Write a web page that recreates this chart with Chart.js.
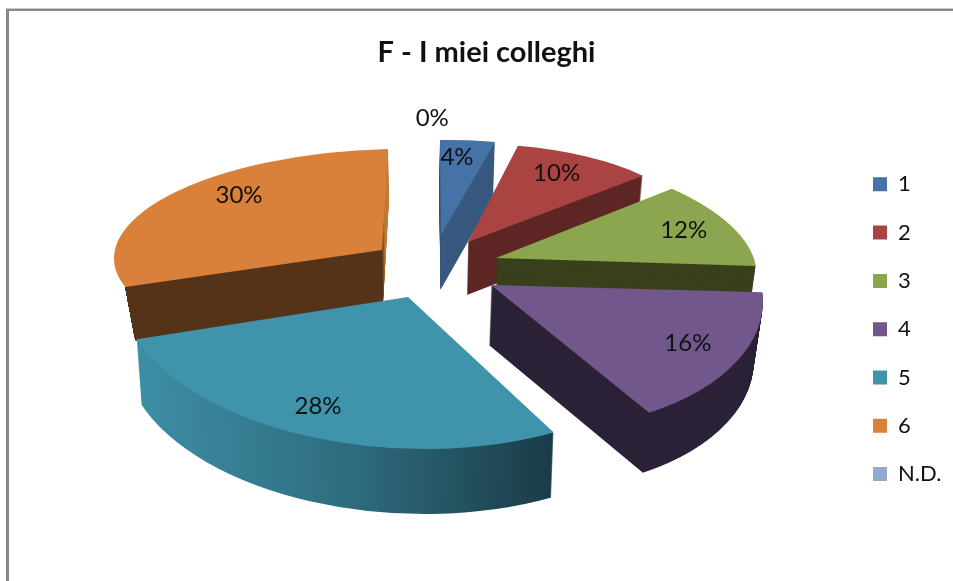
<!DOCTYPE html>
<html>
<head>
<meta charset="utf-8">
<style>html,body{margin:0;padding:0;background:#fff;overflow:hidden}canvas{display:block}</style>
<script src="https://cdn.jsdelivr.net/npm/chart.js@4"></script>
</head>
<body>
<canvas id="c" width="953" height="581"></canvas>
<script>
const categories = ['1','2','3','4','5','6','N.D.'];
const shares = [4,10,12,16,28,30,0];
const chartTitle = 'F - I miei colleghi';

const topColors = ['#4572a7','#a94442','#8ba64e','#71578c','#3f93ab','#d9813b','#93a9cf'];
const sideColors = ['#38597f','#5e2725','#39411c','#2b2238','#1b3a46','#543318','#93a9cf'];
// Side fills that vary across the picture: [left x, right x, stops]
const sideRamps = {
  4:[135,556,[[0,'#3d8ea5'],[0.5,'#2f6d80'],[1,'#1a3b47']]],
  5:[120,400,[[0,'#543318'],[0.935,'#543318'],[0.945,'#c07a36'],[1,'#c07a36']]]
};
// 3D look of each exploded slice: tip position, unit-x and unit-y image vectors,
// extrusion height, and how much the base narrows towards vanishX
const vanishX = 411;
const poses = [
  {t:[441,235],a:[221,-4],b:[1,95],d:55,v:0.02},
  {t:[468,242],a:[234,-5],b:[8.5,98],d:53,v:0.02},
  {t:[496,258],a:[258,1],b:[36,110],d:50,v:0.02},
  {t:[491,285],a:[270,-2],b:[32,147],d:60,v:0.026},
  {t:[408,297],a:[288,5],b:[8,152],d:65,v:0.017},
  {t:[382,250],a:[268,-6],b:[-6,101],d:54,v:0.035},
  {t:[441,235],a:[221,-4],b:[1,95],d:0,v:0}
];
const labelNudge = [[-4,-7],[0,-5],[12,-3],[13,0],[-16,5],[17,-14],[-8,-45]];
const paintOrder = [5,0,1,2,3,4];
const backFacing = [5];

function poseMatrix(el, p){
  const R = el.outerRadius;
  const ax=p.a[0]/R, ay=p.a[1]/R, bx=p.b[0]/R, by=p.b[1]/R;
  return [ax,ay,bx,by,p.t[0]-ax*el.x-bx*el.y,p.t[1]-ay*el.x-by*el.y];
}
function paintWith(ctx, el, fill){
  const saved = el.options;
  el.options = Object.assign(Object.create(saved), {backgroundColor:fill, borderWidth:0});
  el.draw(ctx);
  el.options = saved;
}
function rampFill(ctx, m, ramp){
  // gradient whose colour bands stay vertical in the picture, whatever the slice's matrix
  const inv = new DOMMatrix(m).inverse();
  const p0 = inv.transformPoint({x:ramp[0],y:400}), p1 = inv.transformPoint({x:ramp[1],y:400});
  const up = inv.transformPoint({x:ramp[0],y:401});
  let gx = up.y-p0.y, gy = -(up.x-p0.x);
  const len = Math.hypot(gx,gy); gx/=len; gy/=len;
  const t = (p1.x-p0.x)*gx+(p1.y-p0.y)*gy;
  const g = ctx.createLinearGradient(p0.x,p0.y,p0.x+gx*t,p0.y+gy*t);
  ramp[2].forEach(s=>g.addColorStop(s[0],s[1]));
  return g;
}
const pie3d = {
  id:'pie3d',
  afterLayout(chart){
    const lg = chart.legend, tt = chart.titleBlock;
    const shift = 873 - (lg.left + lg.options.labels.padding);
    lg.left += shift; lg.right += shift; lg.top += 111; lg.bottom += 111;
    tt.left += 10; tt.right += 10; tt.top -= 1; tt.bottom -= 1;
  },
  beforeDraw(chart){
    const ctx = chart.ctx;
    ctx.save();
    ctx.fillStyle='#ffffff'; ctx.fillRect(0,0,953,581);
    ctx.fillStyle='#c9c9c9'; ctx.fillRect(6,8,947,1);
    ctx.fillStyle='#878787'; ctx.fillRect(6,9,947,2); ctx.fillRect(6,9,3,572);
    ctx.restore();
  },
  beforeDatasetsDraw(chart){
    const ctx = chart.ctx, arcs = chart.getDatasetMeta(0).data;
    paintOrder.forEach(i=>{
      const el = arcs[i], p = poses[i], m = poseMatrix(el, p);
      const side = sideRamps[i] ? rampFill(ctx, m, sideRamps[i]) : sideColors[i];
      ctx.save();
      if(backFacing.includes(i)){
        // the far rim of this slice is out of sight: only its cut face shows
        const cx = p.t[0]+p.a[0]*Math.cos(el.startAngle)+p.b[0]*Math.sin(el.startAngle);
        const cy = p.t[1]+p.a[1]*Math.cos(el.startAngle)+p.b[1]*Math.sin(el.startAngle);
        const bx = vanishX+(cx-vanishX)*(1-p.v);
        ctx.beginPath();
        ctx.moveTo(cx,0); ctx.lineTo(cx,cy); ctx.lineTo(bx,cy+p.d); ctx.lineTo(bx,581); ctx.lineTo(953,581); ctx.lineTo(953,0);
        ctx.closePath();
        ctx.save(); ctx.clip();
      }
      for(let k=p.d;k>=1;k--){
        const q = 1-p.v*k/p.d;
        ctx.setTransform(q*m[0],m[1],q*m[2],m[3],vanishX+(m[4]-vanishX)*q,m[5]+k);
        paintWith(ctx, el, side);
      }
      if(backFacing.includes(i)) ctx.restore();
      ctx.setTransform(m[0],m[1],m[2],m[3],m[4],m[5]);
      paintWith(ctx, el, topColors[i]);
      ctx.restore();
    });
    return false;
  },
  afterDraw(chart){
    const ctx = chart.ctx, arcs = chart.getDatasetMeta(0).data;
    ctx.save();
    ctx.font = '24px Lato';
    ctx.fillStyle = '#111';
    ctx.textAlign = 'center';
    ctx.textBaseline = 'middle';
    arcs.forEach((el,i)=>{
      const p = poses[i], mid = (el.startAngle+el.endAngle)/2;
      const ux = Math.cos(mid)*0.75, uy = Math.sin(mid)*0.75;
      const x = p.t[0]+p.a[0]*ux+p.b[0]*uy+labelNudge[i][0];
      const y = p.t[1]+p.a[1]*ux+p.b[1]*uy+labelNudge[i][1];
      ctx.fillText(shares[i]+'%', x, y);
    });
    ctx.restore();
  }
};

new Chart(document.getElementById('c'),{
  type:'pie',
  data:{labels:categories,datasets:[{data:shares,backgroundColor:topColors,borderWidth:0}]},
  plugins:[pie3d],
  options:{
    responsive:false,
    animation:false,
    layout:{padding:{top:36}},
    plugins:{
      tooltip:{enabled:false},
      title:{display:true,text:chartTitle,color:'#111',font:{family:'Lato',size:29,weight:'bold'},padding:0},
      legend:{
        position:'right',
        align:'start',
        labels:{boxWidth:14,boxHeight:14,padding:26.3,color:'#111',font:{family:'Lato',size:22}}
      }
    }
  }
});
</script>
</body>
</html>
